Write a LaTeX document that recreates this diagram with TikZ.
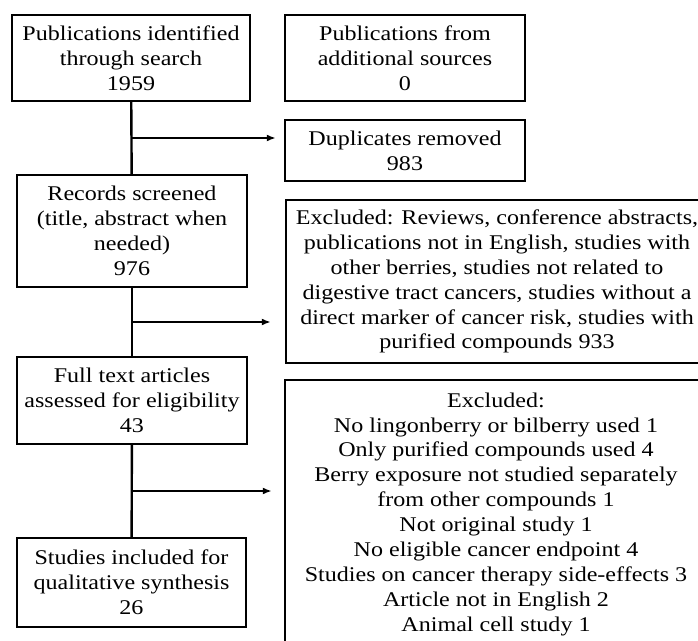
\documentclass[tikz,border=0pt]{standalone}
\usepackage{fontspec}
\setmainfont{Liberation Serif}[FakeStretch=1.15]
\usepackage{tikz}
\usetikzlibrary{calc,arrows.meta}

\begin{document}
\begin{tikzpicture}[x=1bp, y=-1bp, line cap=butt, line join=miter,
    box/.style={draw, line width=2.4bp, align=center, inner sep=0pt,
      font=\fontsize{21}{25}\selectfont},
    flow/.style={line width=2.4bp},
    >={Latex[length=9bp,width=7bp]}]
        % Kader van de figuur
        \useasboundingbox (0,0) rectangle (698,641);

        % Linker kolom (hoofdstroom)
        \node[box, minimum width=238bp, minimum height=86bp] (search) at (131,58)
          {Publications identified\\ through search\\ 1959};
        \node[box, minimum width=230bp, minimum height=112bp] (screen) at (132,231)
          {Records screened\\ (title, abstract when\\ needed)\\ 976};
        \node[box, minimum width=230bp, minimum height=87bp] (full) at (132,400.5)
          {Full text articles\\ assessed for eligibility\\ 43};
        \node[box, minimum width=229bp, minimum height=89bp] (incl) at (131.5,582.5)
          {Studies included for\\ qualitative synthesis\\ 26};

        % Rechter kolom
        \node[box, minimum width=240bp, minimum height=86bp] (extra) at (405,58)
          {Publications from\\ additional sources\\ 0};
        \node[box, minimum width=240bp, minimum height=61bp] (dupl) at (405,150.5)
          {Duplicates removed\\ 983};
        \node[box, minimum width=422bp, minimum height=163bp] (exclA) at (497,281.5)
          {Excluded: Reviews, conference abstracts,\\ publications not in English, studies with\\
           other berries, studies not related to\\ digestive tract cancers, studies without a\\
           direct marker of cancer risk, studies with\\ purified compounds 933};
        \node[box, minimum width=422bp, minimum height=268bp, anchor=north] (exclB) at (496,379)
          {Excluded:\\ No lingonberry or bilberry used 1\\ Only purified compounds used 4\\
           Berry exposure not studied separately\\ from other compounds 1\\ Not original study 1\\
           No eligible cancer endpoint 4\\ Studies on cancer therapy side-effects 3\\
           Article not in English 2\\ Animal cell study 1};

        % Aftakpunten halverwege
        \coordinate (b1) at ($(search.south)!0.5!(screen.north)$);
        \coordinate (b2) at ($(screen.south)!0.5!(full.north)$);
        \coordinate (b3) at ($(full.south)!0.5!(incl.north)$);

        % Verbindingen
        \draw[flow] (search) -- (screen);
        \draw[flow] (screen) -- (full);
        \draw[flow] (full) -- (incl);
        \draw[flow, ->, shorten >=8bp] (b1) -- (b1 -| dupl.west);
        \draw[flow, ->, shorten >=14bp] (b2) -- (b2 -| exclA.west);
        \draw[flow, ->, shorten >=12bp] (b3) -- (b3 -| exclB.west);
\end{tikzpicture}
\end{document}
